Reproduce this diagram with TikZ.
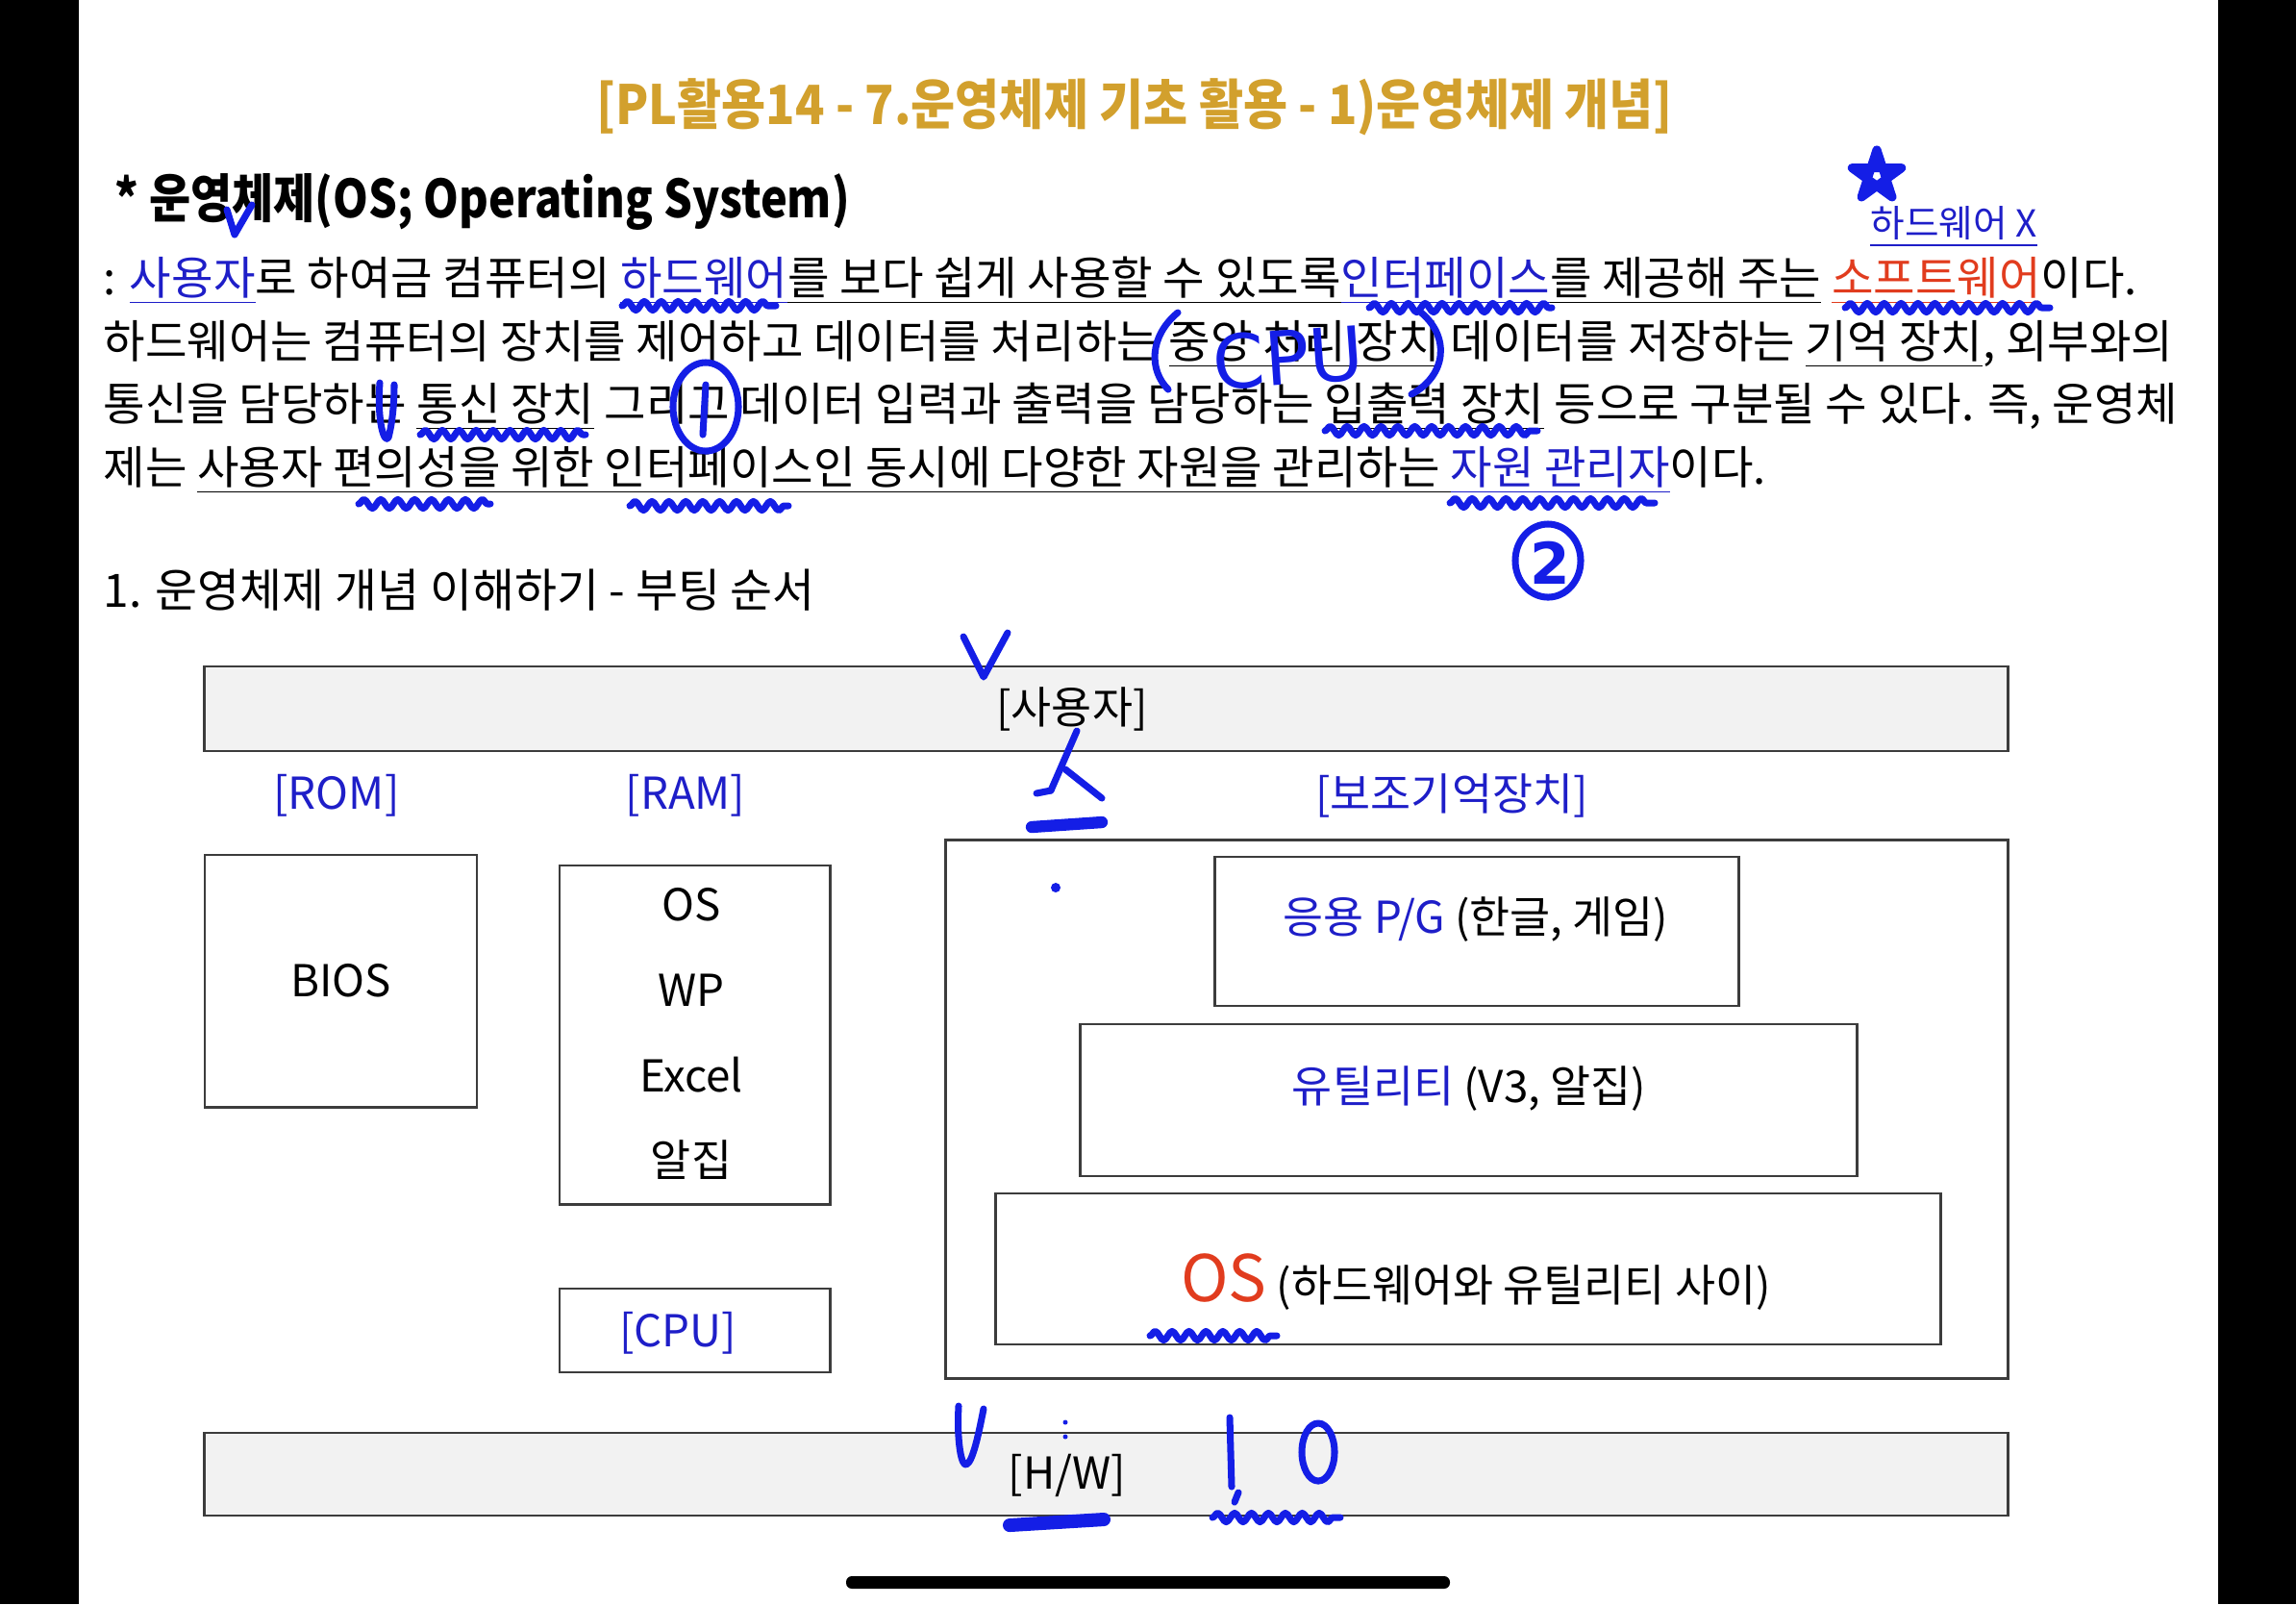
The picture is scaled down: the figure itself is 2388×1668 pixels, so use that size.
\documentclass[tikz,border=0pt]{standalone}
\usepackage{fontspec}
\setmainfont{Noto Sans CJK KR}
\newfontfamily\narrowfont[FakeStretch=0.89]{Noto Sans CJK KR}
\newfontfamily\headfont[FakeStretch=0.86]{Noto Sans CJK KR}
\newfontfamily\penfont{DejaVu Sans}
\usetikzlibrary{positioning,decorations.pathmorphing}

\definecolor{titlegold}{RGB}{210,160,45}
\definecolor{txtblue}{RGB}{30,30,200}
\definecolor{txtred}{RGB}{225,60,30}
\definecolor{penblue}{RGB}{20,30,230}
\definecolor{barfill}{RGB}{242,242,242}
\definecolor{boxline}{RGB}{60,60,60}

% underlined words
\newcommand{\kul}[1]{\underline{\vphantom{가}#1}}
\newcommand{\bul}[1]{{\color{txtblue}\kul{#1}}}
\newcommand{\rul}[1]{{\color{txtred}\kul{#1}}}

\begin{document}
\begin{tikzpicture}[x=0.01cm, y=-0.01cm,
    box/.style={rectangle, draw=boxline, line width=0.8pt, inner sep=0pt},
    bar/.style={box, fill=barfill},
    lbl/.style={text=txtblue, font=\fontsize{13pt}{15pt}\selectfont},
    plain/.style={font=\fontsize{13pt}{15pt}\selectfont},
    bodyline/.style={anchor=base west, inner sep=0pt, font=\fontsize{13.45pt}{16pt}\selectfont},
    pen/.style={draw=penblue, line width=2pt, line cap=round, line join=round},
    squig/.style={pen, decorate, decoration={snake, amplitude=1.3pt, segment length=5pt}}]
        \useasboundingbox (0,0) rectangle (2388,1668);
        % screen edges
        \fill[black] (0,0) rectangle (82,1668);
        \fill[black] (2307,0) rectangle (2388,1668);
        \fill[black, rounded corners=0.06cm] (880,1639) rectangle (1508,1652);
        % Headings
        \node (title) [text=titlegold, font=\narrowfont\bfseries\fontsize{16pt}{18pt}\selectfont] at (1180,111) {[PL활용14 - 7.운영체제 기초 활용 - 1)운영체제 개념]};
        \node (heading) [anchor=west, inner sep=0pt, font=\headfont\bfseries\fontsize{15.5pt}{18pt}\selectfont] at (119,210) {* 운영체제(OS; Operating System)};
        \node (hwnote) [text=txtblue, font=\fontsize{11pt}{13pt}\selectfont] at (2032,236) {\underline{하드웨어 X}};
        % Definition text
        \node (line1) [bodyline] at (107,306) {: \bul{사용자}로 하여금 컴퓨터의 \bul{하드웨어}\kul{를 보다 쉽게 사용할 수 있도록}\bul{인터페이스}\kul{를 제공해 주는} \rul{소프트웨어}이다.};
        \node (line2) [bodyline] at (107,372) {하드웨어는 컴퓨터의 장치를 제어하고 데이터를 처리하는 \kul{중앙 처리 장치} 데이터를 저장하는 \kul{기억 장치}, 외부와의};
        \node (line3) [bodyline] at (107,437) {통신을 담당하는 \kul{통신 장치} 그리고 데이터 입력과 출력을 담당하는 \kul{입출력 장치} 등으로 구분될 수 있다. 즉, 운영체};
        \node (line4) [bodyline] at (107,503) {제는 \kul{사용자 편의성을 위한 인터페이스인 동시에 다양한 자원을 관리하는 }\bul{자원 관리자}이다.};
        \node (section) [anchor=west, inner sep=0pt, font=\fontsize{13.6pt}{16pt}\selectfont] at (107,614) {1. 운영체제 개념 이해하기 - 부팅 순서};
        % Diagram boxes
        \node (user) [bar, minimum width=18.75cm, minimum height=0.88cm] at (1150.5,737) {};
        \node (usertext) [plain] at (1115,737) {[사용자]};
        \node (rom) [lbl] at (350,827) {[ROM]};
        \node (ram) [lbl] at (713,827) {[RAM]};
        \node (aux) [lbl] at (1510,827) {[보조기억장치]};
        \node (bios) [box, plain, minimum width=2.83cm, minimum height=2.62cm] at (354.5,1020) {BIOS};
        \node (rambox) [box, minimum width=2.81cm, minimum height=3.52cm] at (722.5,1076) {};
        \foreach \y/\item in {941/OS, 1030/WP, 1118/Excel, 1206/알집}
          \node [plain] at (719,\y) {\item};
        \node (cpu) [box, minimum width=2.81cm, minimum height=0.87cm] at (722.5,1383.5) {};
        \node (cputext) [lbl] at (705,1386) {[CPU]};
        \node (auxbox) [box, minimum width=11.04cm, minimum height=5.59cm] at (1536,1153.5) {};
        \node (app) [box, minimum width=5.44cm, minimum height=1.55cm] at (1536,968.5) {};
        \node (apptext) [plain] at (1535,956) {\textcolor{txtblue}{응용 P/G} (한글, 게임)};
        \node (util) [box, minimum width=8.07cm, minimum height=1.58cm] at (1527.5,1144) {};
        \node (utiltext) [plain] at (1528,1132) {\textcolor{txtblue}{유틸리티} (V3, 알집)};
        \node (os) [box, minimum width=9.82cm, minimum height=1.57cm] at (1527,1319.5) {};
        \node (ostext) [plain] at (1535,1333) {{\color{txtred}\fontsize{19pt}{21pt}\selectfont OS} (하드웨어와 유틸리티 사이)};
        \node (hw) [bar, minimum width=18.75cm, minimum height=0.86cm] at (1150.5,1533) {};
        \node (hwtext) [plain] at (1110,1534) {[H/W]};
        % Pen marks
        \draw[pen] (236,218) -- (244,244) -- (262,213);
        \coordinate (star) at (1952,183);
        \draw[pen, line width=2.6pt] ([shift={(90:0.27cm)}]star) -- ([shift={(234:0.27cm)}]star) -- ([shift={(18:0.27cm)}]star) -- ([shift={(162:0.27cm)}]star) -- ([shift={(306:0.27cm)}]star) -- cycle;
        \draw[squig] (647,318) -- (807,318);
        \draw[squig] (1424,320) -- (1614,320);
        \draw[squig] (1919,320) -- (2132,320);
        \draw[pen] (1225,325) .. controls (1195,350) and (1195,385) .. (1215,405);
        \draw[pen] (1478,325) .. controls (1508,350) and (1505,390) .. (1468,410);
        \node (cpunote) [text=penblue, font=\penfont\fontsize{22pt}{24pt}\selectfont, rotate=4] at (1340,372) {CPU};
        \draw[pen] (395,398) .. controls (392,440) and (400,462) .. (404,455) .. controls (408,440) and (410,420) .. (410,400);
        \draw[squig] (437,452) -- (609,452);
        \draw[pen] (734,423) ellipse [x radius=0.34cm, y radius=0.46cm];
        \draw[pen] (734,400) -- (731,452);
        \draw[squig] (1378,448) -- (1599,448);
        \draw[squig] (373,524) -- (510,524);
        \draw[squig] (655,526) -- (820,526);
        \draw[squig] (1508,523) -- (1721,523);
        \draw[pen] (1610,583) ellipse [x radius=0.34cm, y radius=0.38cm];
        \node (two) [text=penblue, font=\penfont\bfseries\fontsize{17pt}{19pt}\selectfont] at (1612,585) {2};
        \draw[pen] (1002,662) -- (1023,704) -- (1048,658);
        \draw[pen] (1120,760) -- (1093,822);
        \draw[pen] (1108,800) -- (1146,830);
        \draw[pen] (1093,822) -- (1078,825);
        \draw[pen, line width=3.5pt] (1073,860) -- (1146,855);
        \fill[penblue] (1098,923) circle (0.05cm);
        \draw[squig] (1196,1389) -- (1328,1389);
        \draw[pen] (997,1462) .. controls (995,1500) and (1000,1525) .. (1005,1523) .. controls (1012,1520) and (1018,1490) .. (1023,1465);
        \fill[penblue] (1108,1479) circle (0.025cm);
        \fill[penblue] (1108,1494) circle (0.025cm);
        \draw[pen] (1279,1474) -- (1281,1546);
        \draw[pen] (1288,1552) -- (1284,1562);
        \draw[pen] (1371,1510) ellipse [x radius=0.17cm, y radius=0.3cm];
        \draw[squig] (1261,1578) -- (1394,1578);
        \draw[pen, line width=4pt] (1050,1586) -- (1148,1580);
      \end{tikzpicture}
\end{document}
